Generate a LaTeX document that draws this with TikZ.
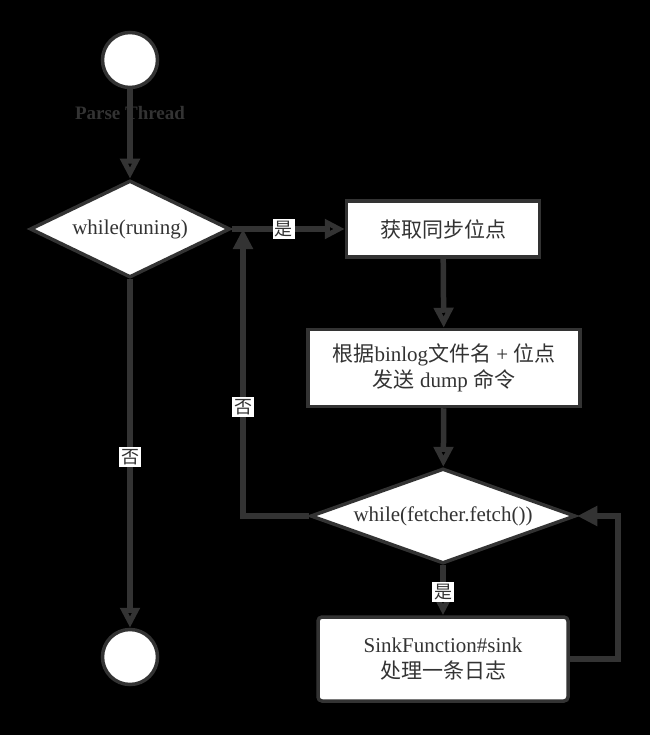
\documentclass[tikz,border=0pt]{standalone}
\usepackage{fontspec}
\setmainfont{Liberation Serif}
\newfontfamily\cjk{Noto Sans CJK SC}
\usetikzlibrary{shapes,arrows.meta}
\definecolor{ink}{HTML}{333333}

\begin{document}
\begin{tikzpicture}[x=1pt,y=-1pt,
  term/.style={shape=circle,draw=ink,fill=white,line width=3.5pt,minimum size=55pt,inner sep=0pt},
  cond/.style={shape=diamond,draw=ink,fill=white,line width=3.5pt,inner sep=0pt,text=ink,font=\fontsize{21}{26}\selectfont},
  act/.style={shape=rectangle,draw=ink,fill=white,line width=3.5pt,align=center,text=ink,inner sep=0pt,font=\fontsize{21}{26}\selectfont},
  flow/.style={-{Triangle[length=20pt,width=19pt]},draw=ink,line width=5.5pt},
  tag/.style={fill=white,text=ink,inner sep=2pt,font=\cjk\fontsize{18}{18}\selectfont}]
\fill[black] (0,0) rectangle (650,735);
\useasboundingbox (0,0) rectangle (650,735);
\node[term] (0) at (130,60) {};
\node[cond,minimum width=200pt,minimum height=97pt,aspect=2] (1) at (130,229) {while(runing)};
\node[act,minimum width=193pt,minimum height=56pt] (2) at (443,229) {\cjk 获取同步位点};
\node[act,minimum width=272pt,minimum height=77pt] (3) at (444,368) {{\cjk 根据}binlog{\cjk 文件名} + {\cjk 位点}\\{\cjk 发送} dump {\cjk 命令}};
\node[cond,minimum width=265pt,minimum height=95pt,aspect=2.8] (4) at (443,516) {while(fetcher.fetch())};
\node[act,rounded corners=4pt,minimum width=250pt,minimum height=84pt] (5) at (443,659) {SinkFunction\#sink\\{\cjk 处理一条日志}};
\node[term] (6) at (130,657) {};
\coordinate (j1) at (243,229);
\coordinate (j2) at (243,516);
\coordinate (j3) at (618,659);
\coordinate (j4) at (618,516);

\path [flow] (0) edge node[text=ink,pos=0.27,font=\bfseries\fontsize{19}{19}\selectfont] {Parse Thread} (1);
\path [flow] (1) edge node[tag,pos=0.46] {是} (2);
\path [flow] (2) edge (3);
\path [flow] (3) edge (4);
\draw [flow] (4.west) -- (j2) -- node[tag,pos=0.38] {否} (j1);
\path [flow] (4) edge node[tag,pos=0.54] {是} (5);
\draw [flow] (5.east) -- (j3) -- (j4) -- (4.east);
\path [flow] (1) edge node[tag,pos=0.51] {否} (6);
\end{tikzpicture}
\end{document}
